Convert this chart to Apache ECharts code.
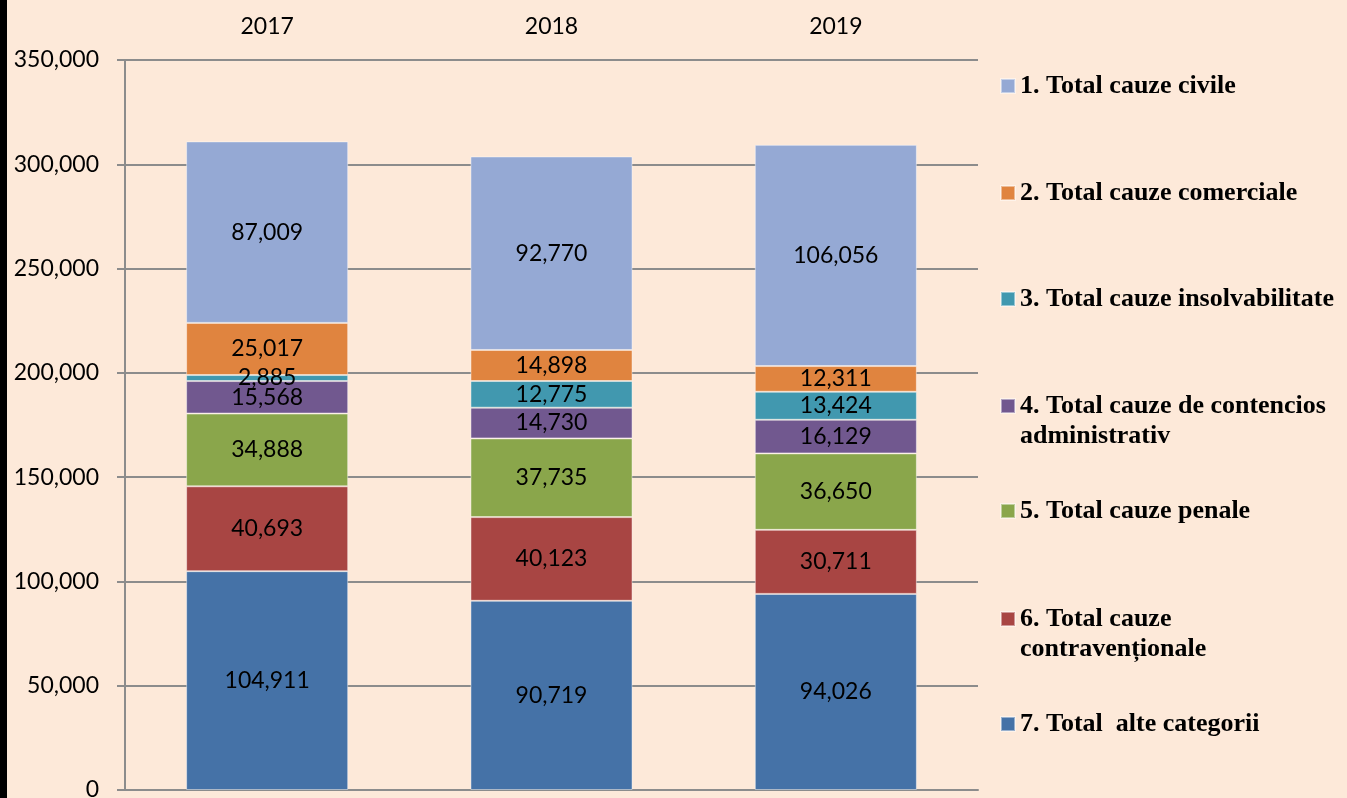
<!DOCTYPE html>
<html>
<head>
<meta charset="utf-8">
<script src="https://cdn.jsdelivr.net/npm/echarts@6/dist/echarts.min.js"></script>
<style>
  html, body { margin: 0; padding: 0; background: #fde9d9; }
  #main { width: 1347px; height: 798px; }
</style>
</head>
<body>
<div id="main"></div>
<script>
// ani
var years = ['2017', '2018', '2019'];
var civile = [87009, 92770, 106056];
var comerciale = [25017, 14898, 12311];
var insolvabilitate = [2885, 12775, 13424];
var contencios = [15568, 14730, 16129];
var penale = [34888, 37735, 36650];
var contraventionale = [40693, 40123, 30711];
var alte = [104911, 90719, 94026];
var yTicks = [0, 50000, 100000, 150000, 200000, 250000, 300000, 350000];

var names = [
    '7. Total  alte categorii',
    '6. Total cauze contravenționale',
    '5. Total cauze penale',
    '4. Total cauze de contencios administrativ',
    '3. Total cauze insolvabilitate',
    '2. Total cauze comerciale',
    '1. Total cauze civile'
];
var values = [alte, contraventionale, penale, contencios, insolvabilitate, comerciale, civile];
var colors = ['#4572a7', '#a84543', '#8aa64b', '#71588f', '#4198af', '#e0843f', '#95a9d4'];

var myChart = echarts.init(document.getElementById('main'));

function fmt(v) {
    return Number(v).toLocaleString('en-US');
}

var series = names.map(function (n, i) {
    return {
        name: n,
        type: 'bar',
        stack: 'total',
        barWidth: '57%',
        data: values[i],
        itemStyle: { color: colors[i], borderColor: 'rgba(255,255,255,0.45)', borderWidth: 1 },
        label: {
            show: true,
            position: 'inside',
            color: '#000',
            fontFamily: 'Lato',
            fontSize: 23,
            formatter: function (p) { return fmt(p.value); }
        }
    };
});

// legenda: fiecare element separat, ca in original
var legendTop = [85, 192, 298, 405, 510, 618, 723];
var legendText = [
    '1. Total cauze civile',
    '2. Total cauze comerciale',
    '3. Total cauze insolvabilitate',
    '\n4. Total cauze de contencios\nadministrativ',
    '5. Total cauze penale',
    '\n6. Total cauze\ncontravenționale',
    '7. Total  alte categorii'
];
var legends = legendText.map(function (t, k) {
    var name = names[6 - k];
    var twoLines = t.indexOf('\n') >= 0;
    return {
        left: 1000,
        top: legendTop[k] - (twoLines ? 44 : 14),
        padding: 0,
        orient: 'vertical',
        itemWidth: 14,
        itemHeight: 14,
        icon: 'rect',
        selectedMode: false,
        data: [name],
        formatter: function () { return t; },
        textStyle: {
            fontFamily: 'Liberation Serif',
            fontWeight: 'bold',
            fontSize: 26,
            lineHeight: 30,
            color: '#000'
        }
    };
});

option = {
    backgroundColor: '#fde9d9',
    animation: false,
    grid: { left: 125, right: 369, top: 60, bottom: 8, outerBoundsMode: 'none' },
    legend: legends,
    xAxis: {
        type: 'category',
        position: 'top',
        data: years,
        axisLine: { lineStyle: { color: '#8c8c8c', width: 2 } },
        axisTick: { length: 8, lineStyle: { color: '#8c8c8c', width: 2 } },
        axisLabel: { color: '#000', fontFamily: 'Lato', fontSize: 23, margin: 22 }
    },
    yAxis: {
        type: 'value',
        min: 0,
        max: yTicks[yTicks.length - 1],
        interval: 50000,
        axisLine: { show: true, lineStyle: { color: '#8c8c8c', width: 2 } },
        axisTick: { show: true, length: 8, lineStyle: { color: '#8c8c8c', width: 2 } },
        splitLine: { lineStyle: { color: '#8c8c8c', width: 2 } },
        axisLabel: { color: '#000', fontFamily: 'Lato', fontSize: 23, margin: 26, formatter: fmt }
    },
    graphic: [{
        type: 'rect',
        left: 0, top: 0,
        shape: { width: 7, height: 798 },
        style: { fill: '#000' }
    }],
    series: series
};

myChart.setOption(option);
</script>
</body>
</html>
